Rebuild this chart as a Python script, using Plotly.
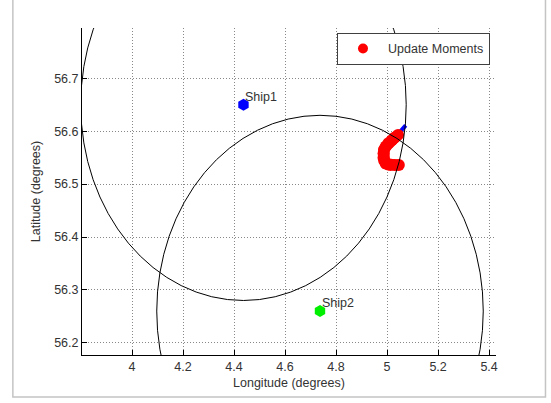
import plotly.graph_objects as go

# Ships (lon, lat)
ship_names = ["Ship1", "Ship2"]
ship_lon = [4.437, 4.737]
ship_lat = [56.650, 56.260]
ship_colors = ["#0000ff", "#00ee00"]

# Range circles around each ship (semi-axes in degrees lon / lat)
circle_rx = [0.638, 0.640]
circle_ry = [0.370, 0.370]

# Estimated track (blue) and update moments (red)
track_lon = [5.042, 5.058, 5.073]
track_lat = [56.594, 56.602, 56.611]

update_lon = [5.043, 5.030, 5.018, 5.005, 4.995, 4.988, 4.986, 4.986, 4.989, 4.995, 5.004, 5.014, 5.030, 5.046]
update_lat = [56.593, 56.588, 56.583, 56.577, 56.571, 56.565, 56.558, 56.550, 56.544, 56.539, 56.537, 56.536, 56.536, 56.536]

x_range = [3.804, 5.427]
y_range = [56.177, 56.795]
x_ticks = [4, 4.2, 4.4, 4.6, 4.8, 5, 5.2, 5.4]
y_ticks = [56.2, 56.3, 56.4, 56.5, 56.6, 56.7]

FONT = "Liberation Sans, Arial, sans-serif"
FS = 12.5
TXT = "#333333"

fig = go.Figure()

fig.add_trace(go.Scatter(x=track_lon, y=track_lat, mode="lines",
                         line=dict(color="#0000ff", width=4), showlegend=False,
                         hoverinfo="skip"))
fig.add_trace(go.Scatter(x=update_lon, y=update_lat, mode="lines+markers",
                         line=dict(color="#ff0000", width=11),
                         marker=dict(color="#ff0000", size=12),
                         showlegend=False, hoverinfo="skip"))
fig.add_trace(go.Scatter(x=update_lon, y=update_lat, mode="markers",
                         marker=dict(color="#ff0000", size=10),
                         name="Update Moments"))

for name, lon, lat, col in zip(ship_names, ship_lon, ship_lat, ship_colors):
    fig.add_trace(go.Scatter(x=[lon], y=[lat], mode="markers",
                             marker=dict(symbol="hexagon", color=col, size=12),
                             showlegend=False, name=name))
    fig.add_annotation(x=lon, y=lat, xref="x", yref="y", text=name,
                       showarrow=False, xanchor="left", yanchor="middle",
                       xshift=0, yshift=8,
                       font=dict(family=FONT, size=FS, color=TXT))

for lon, lat, rx, ry in zip(ship_lon, ship_lat, circle_rx, circle_ry):
    fig.add_shape(type="circle", xref="x", yref="y",
                  x0=lon - rx, x1=lon + rx, y0=lat - ry, y1=lat + ry,
                  line=dict(color="#000000", width=1), layer="above")

# light grey outer frame (figure border)
fig.add_shape(type="rect", xref="paper", yref="paper",
              x0=-0.167, x1=1.1195, y0=-0.1284, y1=1.3,
              line=dict(color="#c4c4c4", width=1.5), layer="below")

axis_common = dict(showline=True, linecolor="#000000", linewidth=1, mirror=False,
                   ticks="inside", ticklen=5, tickcolor="#000000",
                   showgrid=True, gridcolor="#888888", griddash="1px,2px", gridwidth=1,
                   zeroline=False,
                   tickfont=dict(family=FONT, size=FS, color=TXT))

fig.update_xaxes(range=x_range, tickvals=x_ticks,
                 ticktext=[f"{v:g}" for v in x_ticks],
                 title=dict(text="Longitude (degrees)", font=dict(family=FONT, size=FS, color=TXT), standoff=5),
                 **axis_common)
fig.update_yaxes(range=y_range, tickvals=y_ticks,
                 ticktext=[f"{v:g}" for v in y_ticks],
                 title=dict(text="Latitude (degrees)", font=dict(family=FONT, size=FS, color=TXT), standoff=10),
                 **axis_common)

fig.update_layout(
    width=551, height=403,
    margin=dict(l=82, r=55, t=28, b=48),
    paper_bgcolor="#ffffff", plot_bgcolor="#ffffff",
    font=dict(family=FONT, size=FS, color=TXT),
    legend=dict(x=0.9855, y=0.985, xanchor="right", yanchor="top",
                bgcolor="#ffffff", bordercolor="#404040", borderwidth=1,
                font=dict(family=FONT, size=FS, color=TXT),
                itemwidth=40),
)

fig.write_html("out.html")
